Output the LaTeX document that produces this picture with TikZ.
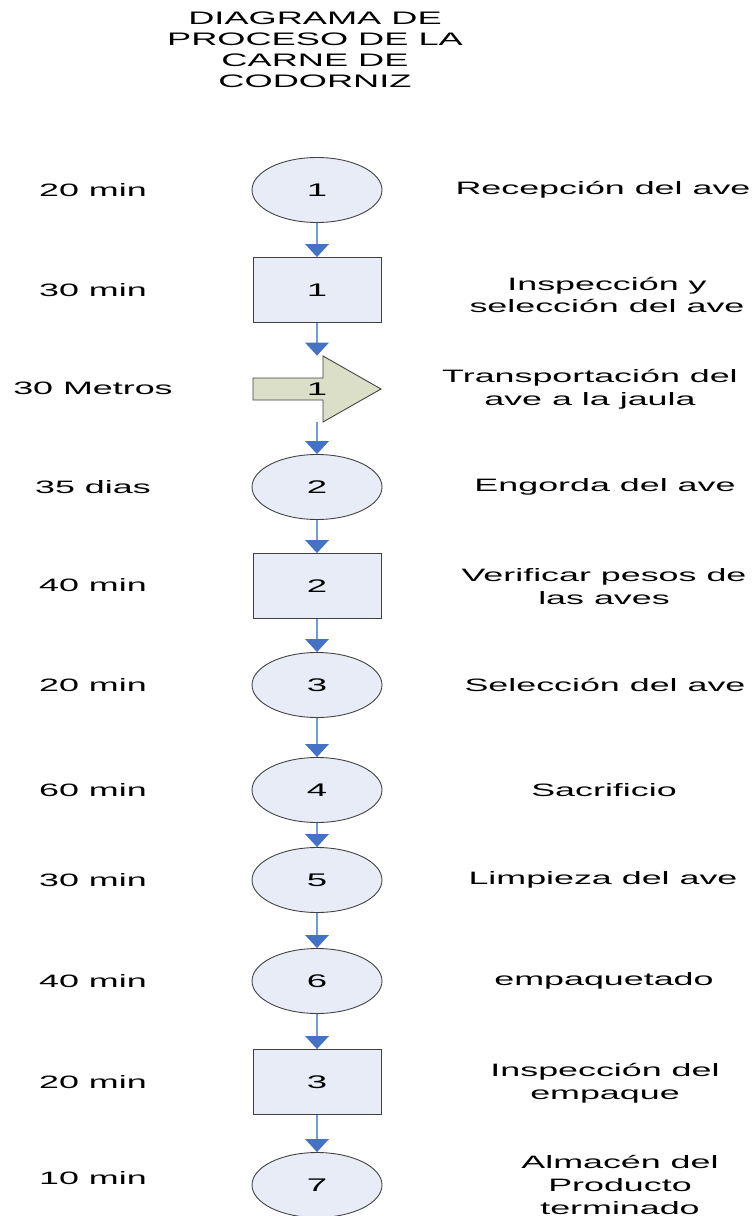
\documentclass[tikz,border=0pt]{standalone}
\usepackage{fontspec}
\setmainfont{Liberation Sans}
\definecolor{pasofill}{HTML}{E7ECF7}
\definecolor{transfill}{HTML}{DCDFC8}
\definecolor{flecha}{HTML}{6F9BD6}
\definecolor{puntaflecha}{HTML}{4472C4}
\usetikzlibrary{arrows.meta}

\tikzset{
	paso/.style = {xscale = 2, draw = black!75, line width = 0.5pt, fill = pasofill, inner sep = 0pt, font = \fontsize{10.4}{12}\selectfont},
	opera/.style = {paso, circle, minimum size = 1.3cm},
	inspec/.style = {paso, rectangle, minimum width = 1.28cm, minimum height = 1.3cm},
	tiempo/.style = {xscale = 2, font = \fontsize{10.2}{12}\selectfont},
	desc/.style = {xscale = 2, align = center, font = \fontsize{10.2}{13}\selectfont},
	flujo/.style = {draw = flecha, line width = 0.9pt, -{Triangle[width = 0.47cm, length = 0.26cm, color = puntaflecha]}}
}

\begin{document}
\begin{tikzpicture}[x = 0.02cm, y = -0.02cm]
	\useasboundingbox (0,0) rectangle (754,1216);
	\node[xscale = 2, align = center, font = \fontsize{10.3}{12}\selectfont] at (315, 50) (titulo) {DIAGRAMA DE\\PROCESO DE LA\\CARNE DE\\CODORNIZ};
	% simbolos del proceso
	\node[opera] at (317, 190) (o1) {1};
	\node[inspec] at (317, 290) (i1) {1};
	\draw[draw = black!75, line width = 0.5pt, fill = transfill] (253,378) -- (323,378) -- (323,356) -- (381,389) -- (323,422) -- (323,400) -- (253,400) -- cycle;
	\node[xscale = 2, inner sep = 0pt, minimum height = 1.32cm, font = \fontsize{10.4}{12}\selectfont] at (317, 389) (t1) {1};
	\node[opera] at (317, 487) (o2) {2};
	\node[inspec] at (317, 586) (i2) {2};
	\node[opera] at (317, 685) (o3) {3};
	\node[opera] at (317, 790) (o4) {4};
	\node[opera] at (317, 880) (o5) {5};
	\node[opera] at (317, 981) (o6) {6};
	\node[inspec] at (317, 1082) (i3) {3};
	\node[opera] at (317, 1185) (o7) {7};
	\draw[flujo] (o1) -- (i1);
	\draw[flujo] (i1) -- (t1);
	\draw[flujo] (t1) -- (o2);
	\draw[flujo] (o2) -- (i2);
	\draw[flujo] (i2) -- (o3);
	\draw[flujo] (o3) -- (o4);
	\draw[flujo] (o4) -- (o5);
	\draw[flujo] (o5) -- (o6);
	\draw[flujo] (o6) -- (i3);
	\draw[flujo] (i3) -- (o7);
	% tiempos
	\node[tiempo] at (93, 190) (d1) {20 min};
	\node[tiempo] at (93, 290) (d2) {30 min};
	\node[tiempo] at (93, 388) (d3) {30 Metros};
	\node[tiempo] at (93, 487) (d4) {35 dias};
	\node[tiempo] at (93, 585) (d5) {40 min};
	\node[tiempo] at (93, 685) (d6) {20 min};
	\node[tiempo] at (93, 790) (d7) {60 min};
	\node[tiempo] at (93, 880) (d8) {30 min};
	\node[tiempo] at (93, 981) (d9) {40 min};
	\node[tiempo] at (93, 1082) (d10) {20 min};
	\node[tiempo] at (93, 1178) (d11) {10 min};
	% actividades
	\node[desc] at (603, 190) (a1) {Recepción del ave};
	\node[desc] at (607, 295) (a2) {Inspección y\\selección del ave};
	\node[desc] at (590, 389) (a3) {Transportación del\\ave a la jaula};
	\node[desc] at (605, 487) (a4) {Engorda del ave};
	\node[desc] at (604, 587) (a5) {Verificar pesos de\\las aves};
	\node[desc] at (605, 685) (a6) {Selección del ave};
	\node[desc] at (604, 790) (a7) {Sacrificio};
	\node[desc] at (603, 880) (a8) {Limpieza del ave};
	\node[desc] at (604, 981) (a9) {empaquetado};
	\node[desc] at (605, 1083) (a10) {Inspección del\\empaque};
	\node[desc] at (620, 1185) (a11) {Almacén del\\Producto\\terminado};
\end{tikzpicture}
\end{document}
